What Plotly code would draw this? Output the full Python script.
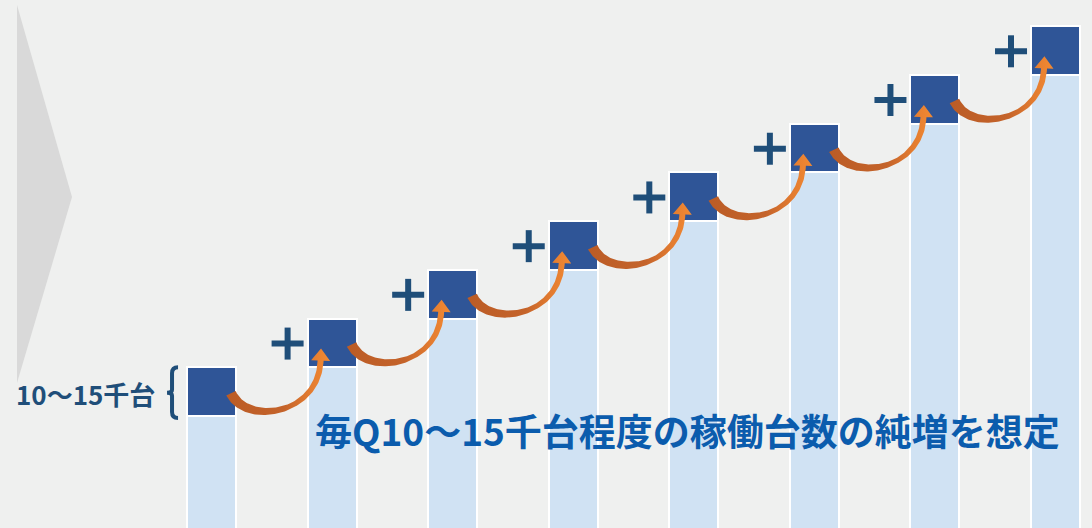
import numpy as np
import plotly.graph_objects as go

# 四半期ごとの稼働台数（千台）: 既存分と純増分
quarters = [0, 1, 2, 3, 4, 5, 6, 7]
existing_units = [30.0, 42.5, 55.0, 67.5, 80.0, 92.5, 105.0, 117.5]
net_additions = [12.5, 12.5, 12.5, 12.5, 12.5, 12.5, 12.5, 12.5]

brace_label = "10～15千台"
headline = "毎Q10～15千台程度の稼働台数の純増を想定"

W, H = 1092, 528
X_RANGE = [-1.7542, 7.3028]
Y_RANGE = [1.26, 136.75]
BAR_WIDTH = 0.406

LIGHT_BLUE = "#d0e2f3"
DARK_BLUE = "#2f5597"
NAVY = "#1f4e79"
HEADLINE_BLUE = "#0b5cad"
BG = "#eff0ef"
FONT = "Noto Sans CJK JP"


def px_x(x):
    return (x - X_RANGE[0]) / (X_RANGE[1] - X_RANGE[0]) * W


def px_y(y):
    return H - (y - Y_RANGE[0]) / (Y_RANGE[1] - Y_RANGE[0]) * H


def data_x(px):
    return X_RANGE[0] + px / W * (X_RANGE[1] - X_RANGE[0])


def data_y(py):
    return Y_RANGE[0] + (H - py) / H * (Y_RANGE[1] - Y_RANGE[0])


totals = [e + n for e, n in zip(existing_units, net_additions)]
half_bar_px = BAR_WIDTH / (X_RANGE[1] - X_RANGE[0]) * W / 2 - 1


def bar_left_px(i):
    return px_x(quarters[i]) - half_bar_px


def curved_arrow(i):
    """Tapered curved arrow from the top block of bar i to the top block of bar i+1 (pixel space)."""
    L0, T0 = bar_left_px(i), px_y(totals[i])
    L1, T1 = bar_left_px(i + 1), px_y(totals[i + 1])
    P0 = np.array([L0 + 43, T0 + 26])
    P3 = np.array([L1 + 12, T1 + 42])
    P1 = P0 + np.array([15, 32])
    P2 = P3 + np.array([-2, 55])
    t = np.linspace(0, 1, 100)[:, None]
    B = (1 - t) ** 3 * P0 + 3 * (1 - t) ** 2 * t * P1 + 3 * (1 - t) * t ** 2 * P2 + t ** 3 * P3
    dB = 3 * (1 - t) ** 2 * (P1 - P0) + 6 * (1 - t) * t * (P2 - P1) + 3 * t ** 2 * (P3 - P2)
    d = dB / np.linalg.norm(dB, axis=1, keepdims=True)
    n = np.column_stack([-d[:, 1], d[:, 0]])
    w = np.interp(t[:, 0], [0, 0.6, 1], [10.5, 5.0, 6.0]) / 2
    left = B + n * w[:, None]
    right = B - n * w[:, None]
    d_end, n_end = d[-1], n[-1]
    tip = P3 + d_end * 12
    barb_l = P3 + n_end * 9.5
    barb_r = P3 - n_end * 9.5
    pts = np.vstack([left, barb_l, tip, barb_r, right[::-1], left[:1]])
    return pts


fig = go.Figure()

fig.add_trace(go.Bar(
    x=quarters, y=existing_units, width=BAR_WIDTH,
    marker=dict(color=LIGHT_BLUE, line=dict(color="white", width=2)),
    hoverinfo="skip", showlegend=False,
))
fig.add_trace(go.Bar(
    x=quarters, y=net_additions, width=BAR_WIDTH,
    marker=dict(color=DARK_BLUE, line=dict(color="white", width=2)),
    hoverinfo="skip", showlegend=False,
))

for i in range(len(quarters) - 1):
    pts = curved_arrow(i)
    fig.add_trace(go.Scatter(
        x=[data_x(p[0]) for p in pts], y=[data_y(p[1]) for p in pts],
        mode="lines", line=dict(width=0, color="rgba(0,0,0,0)"),
        fill="toself",
        fillgradient=dict(type="horizontal",
                          colorscale=[[0, "#bb5c26"], [0.55, "#c4632a"],
                                      [0.8, "#e27b30"], [1, "#f28a33"]]),
        hoverinfo="skip", showlegend=False,
    ))

shapes = []
# 左端の三角形
shapes.append(dict(
    type="path", xref="paper", yref="paper", layer="below",
    path=f"M {17/W},{1-5/H} L {72/W},{1-197/H} L {17/W},{1-383/H} Z",
    fillcolor="#d9d9d9", line=dict(width=0),
))

# 「＋」記号
for i in range(1, len(quarters)):
    cx = bar_left_px(i) - 21
    cy = px_y(totals[i]) + 25
    for (x0, y0, x1, y1) in [(cx - 16, cy, cx + 16, cy), (cx, cy - 16, cx, cy + 16)]:
        shapes.append(dict(
            type="line", xref="x", yref="y",
            x0=data_x(x0), y0=data_y(y0), x1=data_x(x1), y1=data_y(y1),
            line=dict(color=NAVY, width=6),
        ))

# 最初の純増ブロックを示す波括弧
b_top = px_y(totals[0])
b_bot = px_y(existing_units[0]) + 2
bx = bar_left_px(0) - 10
bm = (b_top + b_bot) / 2
brace_px = [
    ("M", bx, b_top), ("Q", bx - 6, b_top, bx - 6, b_top + 6), ("L", bx - 6, bm - 3),
    ("Q", bx - 6, bm, bx - 11, bm), ("Q", bx - 6, bm, bx - 6, bm + 3),
    ("L", bx - 6, b_bot - 6), ("Q", bx - 6, b_bot, bx, b_bot),
]
path = ""
for seg in brace_px:
    cmd, coords = seg[0], seg[1:]
    pairs = [f"{data_x(coords[k])},{data_y(coords[k+1])}" for k in range(0, len(coords), 2)]
    path += f"{cmd} " + " ".join(pairs) + " "
shapes.append(dict(type="path", xref="x", yref="y", path=path.strip(),
                   line=dict(color=NAVY, width=4)))

annotations = [
    dict(text=f"<b>{brace_label}</b>", xref="x", yref="y",
         x=data_x(bx - 21), y=data_y(bm + 1), xanchor="right", yanchor="middle",
         showarrow=False, font=dict(family=FONT, size=26, color=NAVY)),
    dict(text=f"<b>{headline}</b>", xref="paper", yref="paper",
         x=313 / W, y=1 - 430 / H, xanchor="left", yanchor="middle",
         showarrow=False, font=dict(family=FONT, size=37, color=HEADLINE_BLUE)),
]

fig.update_layout(
    width=W, height=H,
    margin=dict(l=0, r=0, t=0, b=0),
    paper_bgcolor=BG, plot_bgcolor="rgba(0,0,0,0)",
    barmode="stack", bargap=0,
    xaxis=dict(range=X_RANGE, visible=False, fixedrange=True),
    yaxis=dict(range=Y_RANGE, visible=False, fixedrange=True),
    shapes=shapes, annotations=annotations,
    showlegend=False,
)

fig.write_html("out.html", config={"displayModeBar": False})
